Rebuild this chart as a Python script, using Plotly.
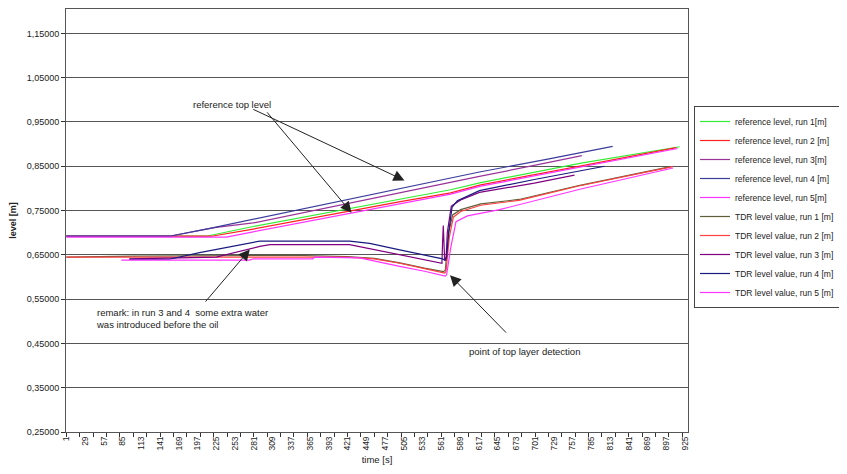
import plotly.graph_objects as go

# ---------------- data ----------------
ref1_t = [1, 210, 280, 420, 500, 575, 620, 770, 917]
ref1_v = [0.692, 0.692, 0.714, 0.754, 0.776, 0.797, 0.813, 0.857, 0.894]

ref2_t = [1, 218, 280, 420, 500, 575, 620, 770, 912]
ref2_v = [0.692, 0.692, 0.708, 0.748, 0.770, 0.790, 0.808, 0.851, 0.892]

ref3_t = [1, 155, 210, 225, 280, 420, 500, 574, 618, 720, 771]
ref3_v = [0.692, 0.692, 0.708, 0.712, 0.722, 0.766, 0.791, 0.813, 0.827, 0.858, 0.874]

ref4_t = [1, 155, 210, 280, 420, 500, 574, 618, 720, 817]
ref4_v = [0.692, 0.692, 0.708, 0.730, 0.775, 0.800, 0.822, 0.837, 0.866, 0.895]

ref5_t = [1, 240, 280, 420, 500, 575, 620, 770, 914]
ref5_v = [0.690, 0.690, 0.702, 0.743, 0.766, 0.787, 0.805, 0.848, 0.890]

tdr1_t = [1, 100, 340, 420, 461, 499, 536, 564, 567, 572, 578, 590, 620, 677, 768, 900]
tdr1_v = [0.645, 0.647, 0.649, 0.646, 0.642, 0.632, 0.620, 0.612, 0.615, 0.700, 0.740, 0.752, 0.765, 0.775, 0.807, 0.848]

tdr2_t = [1, 420, 461, 499, 536, 566, 568, 573, 579, 590, 620, 677, 768, 907]
tdr2_v = [0.645, 0.645, 0.641, 0.631, 0.619, 0.609, 0.612, 0.690, 0.735, 0.748, 0.762, 0.773, 0.806, 0.849]

tdr3_t = [95, 225, 290, 305, 424, 454, 499, 540, 562, 563, 564, 566, 568, 570, 576, 590, 618, 700, 760]
tdr3_v = [0.641, 0.645, 0.669, 0.673, 0.673, 0.664, 0.650, 0.638, 0.631, 0.680, 0.716, 0.640, 0.637, 0.700, 0.760, 0.774, 0.791, 0.812, 0.830]

tdr4_t = [95, 155, 200, 260, 290, 424, 454, 499, 540, 563, 566, 569, 572, 577, 585, 603, 618, 700, 805]
tdr4_v = [0.640, 0.640, 0.655, 0.672, 0.681, 0.681, 0.676, 0.661, 0.648, 0.641, 0.638, 0.645, 0.700, 0.757, 0.772, 0.784, 0.795, 0.820, 0.850]

tdr5_t = [83, 275, 280, 369, 372, 439, 499, 536, 567, 569, 575, 583, 600, 648, 768, 907]
tdr5_v = [0.638, 0.638, 0.641, 0.641, 0.645, 0.643, 0.624, 0.613, 0.602, 0.605, 0.665, 0.725, 0.738, 0.752, 0.798, 0.846]

series_names = [
    "reference level, run 1[m]",
    "reference level, run 2 [m]",
    "reference level, run 3[m]",
    "reference level, run 4 [m]",
    "reference level, run 5[m]",
    "TDR level value, run 1 [m]",
    "TDR level value, run 2 [m]",
    "TDR level value, run 3 [m]",
    "TDR level value, run 4 [m]",
    "TDR level value, run 5 [m]",
]
series_t = [ref1_t, ref2_t, ref3_t, ref4_t, ref5_t, tdr1_t, tdr2_t, tdr3_t, tdr4_t, tdr5_t]
series_v = [ref1_v, ref2_v, ref3_v, ref4_v, ref5_v, tdr1_v, tdr2_v, tdr3_v, tdr4_v, tdr5_v]
series_colors = ["#33ee33", "#ff2020", "#993399", "#3c3c9c", "#ff33ff",
                 "#5f5f3a", "#ff4040", "#800080", "#1a1a80", "#ff33ff"]

x_tick_labels = [1, 29, 57, 85, 113, 141, 169, 197, 225, 253, 281, 309, 337, 365,
                 393, 421, 449, 477, 505, 533, 561, 589, 617, 645, 673, 701, 729,
                 757, 785, 813, 841, 869, 897, 925]
y_tick_values = [0.25, 0.35, 0.45, 0.55, 0.65, 0.75, 0.85, 0.95, 1.05, 1.15]
y_tick_labels = ["0,25000", "0,35000", "0,45000", "0,55000", "0,65000",
                 "0,75000", "0,85000", "0,95000", "1,05000", "1,15000"]

# ---------------- figure ----------------
# the page body adds an 8px offset, so the figure is 8px smaller than the window
W, H = 839, 466
FONT = "Liberation Sans, Arial, sans-serif"
fig = go.Figure()
for name, t, v, c in zip(series_names, series_t, series_v, series_colors):
    fig.add_trace(go.Scatter(x=t, y=v, mode="lines", name=name,
                             line=dict(color=c, width=1.2)))

fig.update_layout(
    width=W, height=H,
    margin=dict(l=58, r=159, t=1, b=42),
    paper_bgcolor="white", plot_bgcolor="white",
    font=dict(family=FONT, size=9, color="#222"),
    showlegend=True,
    legend=dict(xref="container", yref="container",
                x=686 / W, y=1 - 199 / H, xanchor="left", yanchor="middle",
                bordercolor="#444", borderwidth=1, bgcolor="white",
                font=dict(size=8.5, family=FONT, color="#222"),
                itemwidth=30, tracegroupgap=0),
    xaxis=dict(
        range=[0.5, 929.5], tickmode="array", tickvals=x_tick_labels,
        ticktext=[str(v) for v in x_tick_labels], tickangle=-90,
        ticks="", showgrid=False, zeroline=False, automargin=False,
        showline=True, linecolor="#555", linewidth=1, mirror=True,
        tickfont=dict(size=8.5, family=FONT, color="#222"),
        minor=dict(ticks="outside", tickmode="linear", tick0=1, dtick=20,
                   ticklen=4, tickcolor="#333", showgrid=False),
        title=dict(text="time [s]", font=dict(size=9.5, family=FONT, color="#222"),
                   standoff=6),
    ),
    yaxis=dict(
        range=[0.25, 1.205], tickmode="array", tickvals=y_tick_values,
        ticktext=y_tick_labels, ticks="outside", ticklen=4, tickcolor="#333",
        showgrid=True, gridcolor="#555", gridwidth=1, zeroline=False, automargin=False,
        showline=True, linecolor="#555", linewidth=1, mirror=True,
        tickfont=dict(size=9, family=FONT, color="#222"),
        title=dict(text="<b>level [m]</b>", font=dict(size=9, family=FONT, color="#222"),
                   standoff=8),
    ),
)

ann_font = dict(size=9.5, family=FONT, color="#222")
arrow_style = dict(showarrow=True, arrowhead=2, arrowsize=2.2, arrowwidth=1,
                   arrowcolor="#222", axref="x", ayref="y", text="")
# reference top level
fig.add_annotation(x=249, y=0.989, text="reference top level", showarrow=False,
                   font=ann_font, xref="x", yref="y")
fig.add_annotation(x=506, y=0.818, ax=278, ay=0.980, **arrow_style)
fig.add_annotation(x=427, y=0.745, ax=299, ay=0.975, **arrow_style)
# remark
fig.add_annotation(x=43, y=0.507, xanchor="left", align="left", showarrow=False,
                   text="remark: in run 3 and 4  some extra water<br>was introduced before the oil",
                   font=ann_font, xref="x", yref="y")
fig.add_annotation(x=275, y=0.662, ax=207, ay=0.541, **arrow_style)
# point of top layer detection
fig.add_annotation(x=686, y=0.432, text="point of top layer detection", showarrow=False,
                   font=ann_font, xref="x", yref="y")
fig.add_annotation(x=574, y=0.604, ax=660, ay=0.471, **arrow_style)

fig.write_html("out.html")
